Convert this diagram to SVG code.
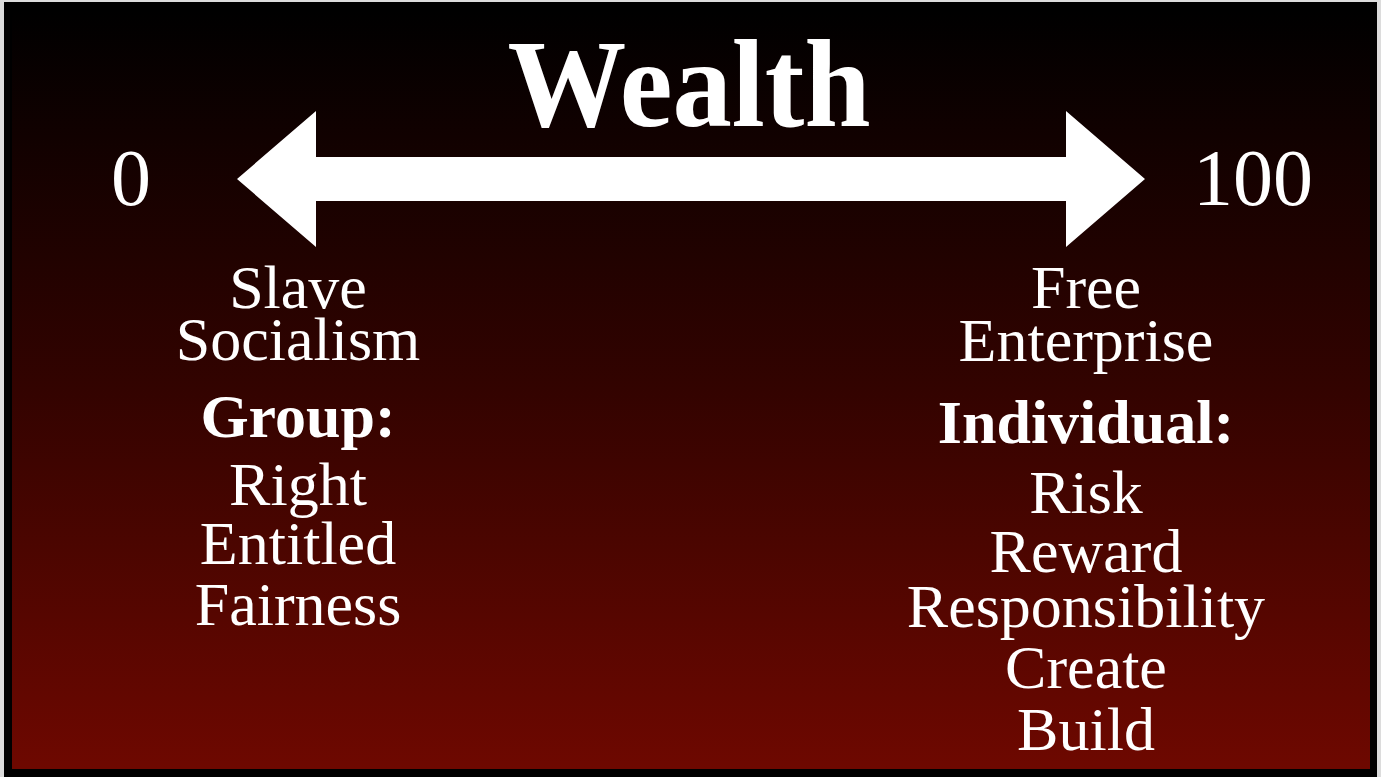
<svg xmlns="http://www.w3.org/2000/svg" width="1381" height="777" viewBox="0 0 1381 777">
  <defs>
    <linearGradient id="bg" x1="0" y1="0" x2="0" y2="1">
      <stop offset="0" stop-color="#000000"/>
      <stop offset="0.5" stop-color="#330300"/>
      <stop offset="1" stop-color="#6e0800"/>
    </linearGradient>
    <style>
      text { fill: #ffffff; font-family: "Liberation Serif", "Times New Roman", serif; text-anchor: middle; }
      .t { font-size: 62px; }
      .b { font-size: 62px; font-weight: bold; }
      .num { font-size: 80px; }
    </style>
  </defs>
  <rect x="0" y="0" width="1381" height="777" fill="#dcdcdc"/>
  <rect x="4" y="2" width="1373" height="775" fill="#000000"/>
  <rect x="12" y="10" width="1358" height="759" fill="url(#bg)"/>

  <g id="title">
    <text x="689" y="126" font-size="124" font-weight="bold" textLength="363" lengthAdjust="spacingAndGlyphs">Wealth</text>
  </g>

  <g id="connectors">
    <polygon id="double-arrow" fill="#ffffff" points="237,179 316,111 316,157 1066,157 1066,111 1145,179 1066,247 1066,201 316,201 316,247"/>
  </g>

  <g id="label-0">
    <text class="num" x="131" y="205">0</text>
  </g>
  <g id="label-100">
    <text class="num" x="1253" y="205">100</text>
  </g>

  <g id="left-column">
    <text class="t" x="298" y="308">Slave</text>
    <text class="t" x="298" y="360">Socialism</text>
    <text class="b" x="298" y="437">Group:</text>
    <text class="t" x="298" y="505">Right</text>
    <text class="t" x="298" y="564">Entitled</text>
    <text class="t" x="298" y="625">Fairness</text>
  </g>

  <g id="right-column">
    <text class="t" x="1086" y="308">Free</text>
    <text class="t" x="1086" y="361">Enterprise</text>
    <text class="b" x="1086" y="443">Individual:</text>
    <text class="t" x="1086" y="513">Risk</text>
    <text class="t" x="1086" y="572">Reward</text>
    <text class="t" x="1086" y="627">Responsibility</text>
    <text class="t" x="1086" y="688">Create</text>
    <text class="t" x="1086" y="750">Build</text>
  </g>
</svg>
